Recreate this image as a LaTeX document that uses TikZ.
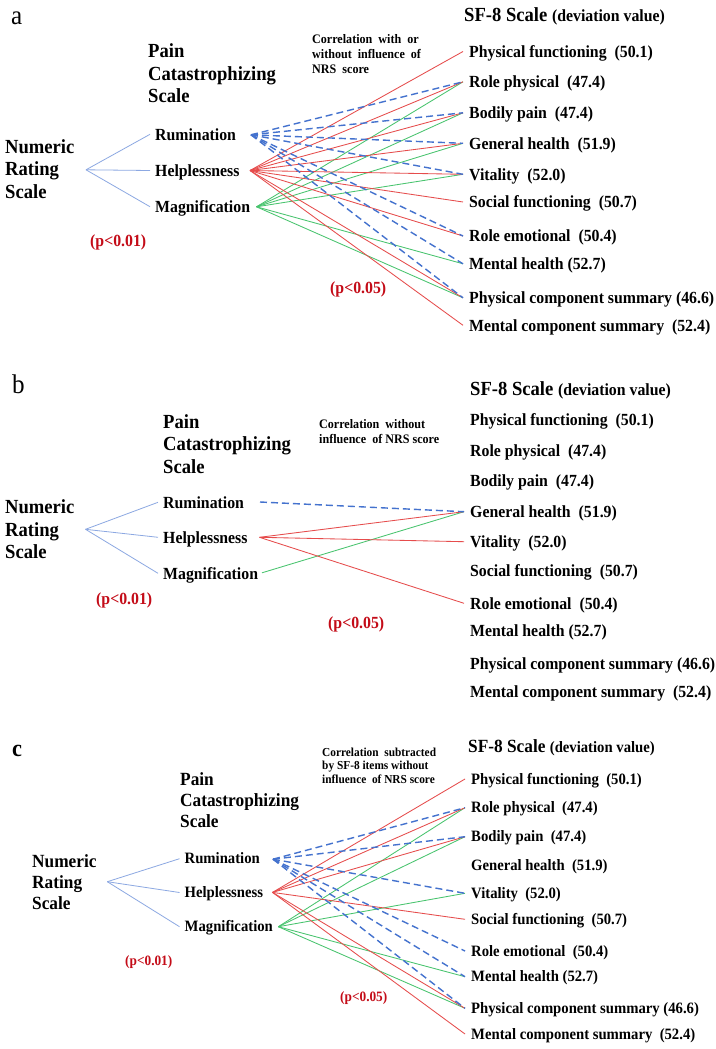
\documentclass[tikz,border=0pt]{standalone}
\usepackage{fontspec}
\setmainfont{Liberation Serif}[FakeStretch=0.93]
\usetikzlibrary{calc}
\definecolor{lred}{RGB}{230,76,76}
\definecolor{lgreen}{RGB}{72,196,110}
\definecolor{dblue}{RGB}{68,114,206}
\definecolor{nblue}{RGB}{140,168,226}
\definecolor{pred}{RGB}{196,12,24}
\tikzset{
  itm/.style={anchor=west, inner xsep=6pt, inner ysep=0pt, text height=11.4pt, text depth=0pt, font=\fontsize{17}{20}\selectfont\bfseries},
  itmc/.style={itm, text height=10.5pt, font=\fontsize{15.8}{18}\selectfont\bfseries},
  sub/.style={itm, inner xsep=5pt},
  subc/.style={itmc, inner xsep=5pt},
  head/.style={anchor=north west, inner sep=0pt, align=left, font=\fontsize{20}{22.5}\selectfont\bfseries},
  headc/.style={head, font=\fontsize{18.6}{21}\selectfont\bfseries},
  sfhead/.style={anchor=west, inner sep=0pt, text height=13.2pt, text depth=0pt, font=\fontsize{20}{22}\selectfont\bfseries},
  corr/.style={anchor=north west, inner sep=0pt, align=left, font=\fontsize{13}{15}\selectfont\bfseries},
  corrc/.style={corr, font=\fontsize{12.2}{13.8}\selectfont\bfseries},
  pv/.style={anchor=west, inner sep=0pt, text height=11.4pt, text depth=0pt, text=pred, font=\fontsize{17}{20}\selectfont\bfseries},
  pvc/.style={pv, text height=9.5pt, font=\fontsize{14.3}{16}\selectfont\bfseries},
  letter/.style={anchor=base west, inner sep=0pt, font=\fontsize{27}{30}\selectfont},
  nl/.style={draw=nblue, line width=0.8pt},
  rl/.style={draw=lred, line width=0.85pt},
  gl/.style={draw=lgreen, line width=0.85pt},
  bl/.style={draw=dblue, line width=1.4pt, dash pattern=on 7pt off 4pt}
}
\begin{document}
\begin{tikzpicture}[x=1pt,y=-1pt]
\useasboundingbox[fill=white] (0,0) rectangle (715,1049);

%% ---------------- panel a ----------------
\node[letter] (la) at (11,25) {a};
\node[head] (apcs) at (148,43.5) {Pain\\Catastrophizing\\Scale};
\node[head] (anrs) at (5,139) {Numeric\\Rating\\Scale};
\node[sub] (aRum) at (150,134.3) {Rumination};
\node[sub] (aHel) at (150,170.5) {Helplessness};
\node[sub] (aMag) at (150,206.7) {Magnification};
\node[pv] (ap1) at (90,240.5) {(p<0.01)};
\node[pv] (ap5) at (330,287.3) {(p<0.05)};
\node[corr] (acorr) at (312,34.4) {Correlation\ \ with\ \ or\\without\ \ influence\ \ of\\NRS\ \ score};
\node[sfhead] (asf) at (464,15) {SF-8 Scale {\fontsize{17}{20}\selectfont (deviation value)}};
\node[itm] (aPF) at (463,51.5) {Physical functioning~~(50.1)};
\node[itm] (aRP) at (463,81.8) {Role physical~~(47.4)};
\node[itm] (aBP) at (463,112.8) {Bodily pain~~(47.4)};
\node[itm] (aGH) at (463,143.3) {General health~~(51.9)};
\node[itm] (aVit) at (463,174.3) {Vitality~~(52.0)};
\node[itm] (aSF) at (463,202) {Social functioning~~(50.7)};
\node[itm] (aRE) at (463,236) {Role emotional~~(50.4)};
\node[itm] (aMH) at (463,263.8) {Mental health (52.7)};
\node[itm] (aPCS) at (463,297.8) {Physical component summary (46.6)};
\node[itm] (aMCS) at (463,325.3) {Mental component summary~~(52.4)};
\coordinate (aN) at (86,169.8);
\coordinate (aR) at (251,134.8);
\coordinate (aH) at (250,170.5);
\coordinate (aM) at (256.5,206.8);
\foreach \s in {Rum,Hel,Mag} \draw[nl] (aN) -- (a\s.west);
\foreach \t in {RP,BP,GH,Vit,MH,PCS} \draw[gl] (aM) -- (a\t.west);
\foreach \t in {PF,RP,BP,GH,Vit,SF,RE,PCS,MCS} \draw[rl] (aH) -- (a\t.west);
\foreach \t in {RP,BP,GH,Vit,RE,MH,PCS} \draw[bl] (aR) -- (a\t.west);

%% ---------------- panel b ----------------
\node[letter] (lb) at (12,393.3) {b};
\node[head] (bpcs) at (163,414) {Pain\\Catastrophizing\\Scale};
\node[head] (bnrs) at (5,499.5) {Numeric\\Rating\\Scale};
\node[sub] (bRum) at (158,502.3) {Rumination};
\node[sub] (bHel) at (158,537.3) {Helplessness};
\node[sub] (bMag) at (158,573.3) {Magnification};
\node[pv] (bp1) at (96,598.3) {(p<0.01)};
\node[pv] (bp5) at (328,622.7) {(p<0.05)};
\node[corr] (bcorr) at (319,419.6) {Correlation\ \ without\\influence\ \ of NRS score};
\node[sfhead] (bsf) at (470,389.3) {SF-8 Scale {\fontsize{17}{20}\selectfont (deviation value)}};
\node[itm] (bPF) at (464,420) {Physical functioning~~(50.1)};
\node[itm] (bRP) at (464,450.7) {Role physical~~(47.4)};
\node[itm] (bBP) at (464,481) {Bodily pain~~(47.4)};
\node[itm] (bGH) at (464,511.7) {General health~~(51.9)};
\node[itm] (bVit) at (464,541.7) {Vitality~~(52.0)};
\node[itm] (bSF) at (464,570.7) {Social functioning~~(50.7)};
\node[itm] (bRE) at (464,603.3) {Role emotional~~(50.4)};
\node[itm] (bMH) at (464,630.7) {Mental health (52.7)};
\node[itm] (bPCS) at (464,664) {Physical component summary (46.6)};
\node[itm] (bMCS) at (464,691.5) {Mental component summary~~(52.4)};
\coordinate (bN) at (85.5,529.3);
\coordinate (bR) at (260,502);
\coordinate (bH) at (259.5,537.3);
\coordinate (bM) at (262,572.8);
\foreach \s in {Rum,Hel,Mag} \draw[nl] (bN) -- (b\s.west);
\draw[gl] (bM) -- (bGH.west);
\foreach \t in {GH,Vit,RE} \draw[rl] (bH) -- (b\t.west);
\draw[bl] (bR) -- (bGH.west);

%% ---------------- panel c ----------------
\node[letter, font=\fontsize{24}{26}\selectfont\bfseries] (lc) at (12,756) {c};
\node[headc] (cpcs) at (180,772) {Pain\\Catastrophizing\\Scale};
\node[headc] (cnrs) at (32,854) {Numeric\\Rating\\Scale};
\node[subc] (cRum) at (179.5,858.7) {Rumination};
\node[subc] (cHel) at (179.5,892.5) {Helplessness};
\node[subc] (cMag) at (179.5,926.7) {Magnification};
\node[pvc] (cp1) at (125,961) {(p<0.01)};
\node[pvc] (cp5) at (340,996.7) {(p<0.05)};
\node[corrc] (ccorr) at (322,747.5) {Correlation\ \ subtracted\\by SF-8 items without\\influence\ \ of NRS score};
\node[sfhead, text height=12.3pt, font=\fontsize{18.6}{21}\selectfont\bfseries] (csf) at (468,746.7) {SF-8 Scale {\fontsize{15.8}{18}\selectfont (deviation value)}};
\node[itmc] (cPF) at (465,779) {Physical functioning~~(50.1)};
\node[itmc] (cRP) at (465,807.7) {Role physical~~(47.4)};
\node[itmc] (cBP) at (465,836.7) {Bodily pain~~(47.4)};
\node[itmc] (cGH) at (465,865) {General health~~(51.9)};
\node[itmc] (cVit) at (465,893.3) {Vitality~~(52.0)};
\node[itmc] (cSF) at (465,919.3) {Social functioning~~(50.7)};
\node[itmc] (cRE) at (465,951) {Role emotional~~(50.4)};
\node[itmc] (cMH) at (465,976.7) {Mental health (52.7)};
\node[itmc] (cPCS) at (465,1008.3) {Physical component summary (46.6)};
\node[itmc] (cMCS) at (465,1034) {Mental component summary~~(52.4)};
\coordinate (cN) at (107.3,881.7);
\coordinate (cR) at (273,859.2);
\coordinate (cH) at (272.5,892.4);
\coordinate (cM) at (278.3,926.7);
\foreach \s in {Rum,Hel,Mag} \draw[nl] (cN) -- (c\s.west);
\foreach \t in {RP,BP,Vit,MH,PCS} \draw[gl] (cM) -- (c\t.west);
\foreach \t in {PF,RP,BP,SF,PCS,MCS} \draw[rl] (cH) -- (c\t.west);
\foreach \t in {RP,BP,Vit,RE,MH,PCS} \draw[bl] (cR) -- (c\t.west);
\end{tikzpicture}
\end{document}
